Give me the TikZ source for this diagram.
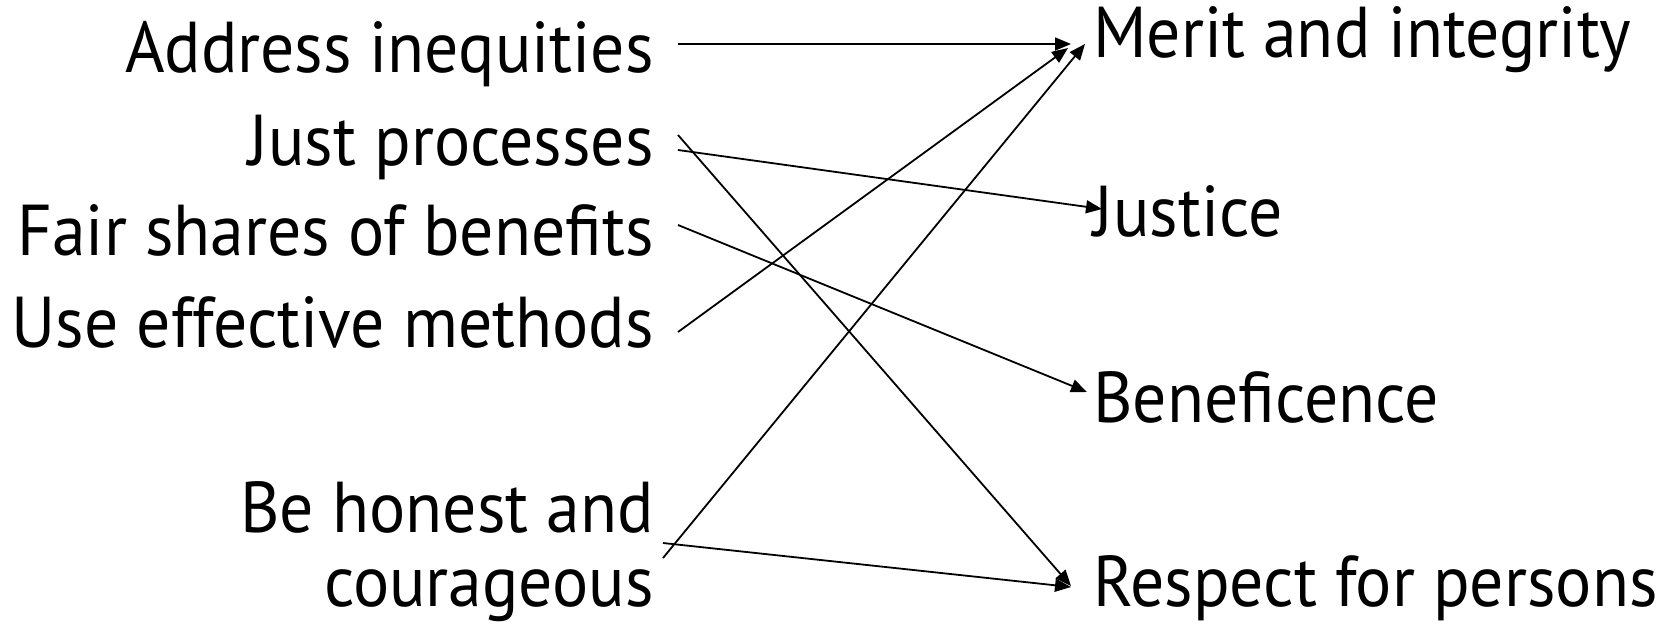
\documentclass[tikz,border=0pt]{standalone}
\usepackage{fontspec}
\setmainfont{PT Sans}[FakeStretch=0.94]
\usetikzlibrary{arrows.meta,calc}

\tikzset{
	goal/.style={font=\fontsize{36}{37}\selectfont, inner sep=0pt},
	link/.style={line width=0.9pt, -{Triangle[length=8pt,width=6.5pt]}}
}

\begin{document}
\begin{tikzpicture}[x=0.5pt,y=-0.5pt]
	\useasboundingbox (0,0) rectangle (1667,622);
	% actions
	\node[goal,anchor=base east] (addr) at (654,72) {Address inequities};
	\node[goal,anchor=base east] (just) at (654,165) {Just processes};
	\node[goal,anchor=base east] (fair) at (654,255) {Fair shares of benefits};
	\node[goal,anchor=base east] (use) at (654,347) {Use effective methods};
	\node[goal,anchor=base east,align=right] (honest) at (654,606) {Be honest and\\courageous};
	% principles
	\node[goal,anchor=base west] (merit) at (1093,57) {Merit and integrity};
	\node[goal,anchor=base west] (justice) at (1093,236) {Justice};
	\node[goal,anchor=base west] (benef) at (1093,422) {Beneficence};
	\node[goal,anchor=base west] (respect) at (1093,606) {Respect for persons};

	\draw[link] ($(addr.base east)+(24,-28)$) -- ($(merit.base west)+(-22,-13)$);
	\draw[link] ($(just.base east)+(24,-15)$) -- ($(justice.base west)+(9,-27)$);
	\draw[link] ($(just.base east)+(24,-30)$) -- ($(respect.base west)+(-22,-20)$);
	\draw[link] ($(fair.base east)+(24,-30)$) -- ($(benef.base west)+(-6,-30)$);
	\draw[link] ($(use.base east)+(24,-15)$) -- ($(merit.base west)+(-25,-9)$);
	\draw[link] ($(honest.base east)+(9,-48)$) -- ($(merit.base west)+(-8,-13)$);
	\draw[link] ($(honest.base east)+(9,-63)$) -- ($(respect.base west)+(-22,-19)$);
\end{tikzpicture}
\end{document}
